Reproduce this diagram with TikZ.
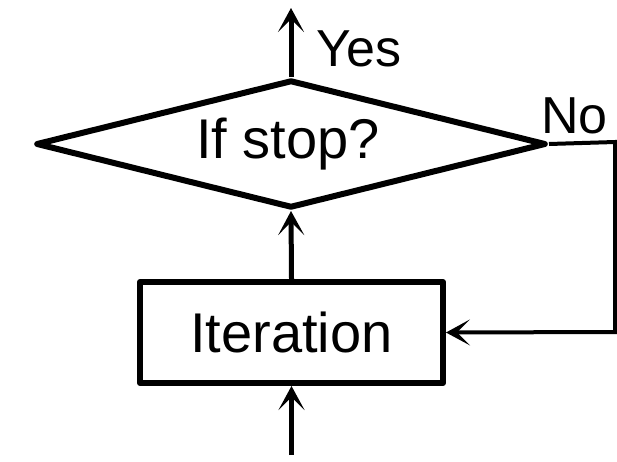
\documentclass[tikz,border=0pt]{standalone}
\usepackage{fontspec}
\setmainfont{Liberation Sans}
\usetikzlibrary{shapes.geometric,arrows.meta}
\begin{document}
\begin{tikzpicture}[x=1pt,y=-1pt,
  bigfont/.style={font=\fontsize{56}{60}\selectfont},
  labfont/.style={font=\fontsize{52}{56}\selectfont},
  decision/.style={diamond,draw,line width=6pt,line join=round,minimum width=510pt,minimum height=128pt,inner sep=0pt,bigfont},
  procbox/.style={rectangle,draw,line width=6pt,line join=round,minimum width=303pt,minimum height=101pt,inner sep=0pt,bigfont},
  flow/.style={line width=5pt,-{Stealth[length=24pt,width=26pt,inset=13pt]}},
  back/.style={line width=4pt,-{Stealth[length=24pt,width=26pt,inset=13pt]}}]
\useasboundingbox (0,0) rectangle (617,461);
\node[decision] (d) at (291,144) {\makebox[0pt]{\hspace*{-6pt}If stop?}};
\node[procbox] (it) at (291.5,332.5) {Iteration};
\coordinate (start) at (291.5,455);
\coordinate (yes) at (291,8);
\coordinate (c1) at (615,142);
\coordinate (c2) at (615,332);
\draw[flow] (start) -- (it.south);
\draw[flow] (it.north) -- (d.south);
\draw[flow] (d.north) -- (yes);
\draw[back] (d.east) -- (c1) -- (c2) -- (it.east);
\node[labfont,anchor=base west,inner sep=0pt] (ylab) at (316,66) {Yes};
\node[labfont,anchor=base west,inner sep=0pt] (nlab) at (541,133) {No};
\end{tikzpicture}
\end{document}
